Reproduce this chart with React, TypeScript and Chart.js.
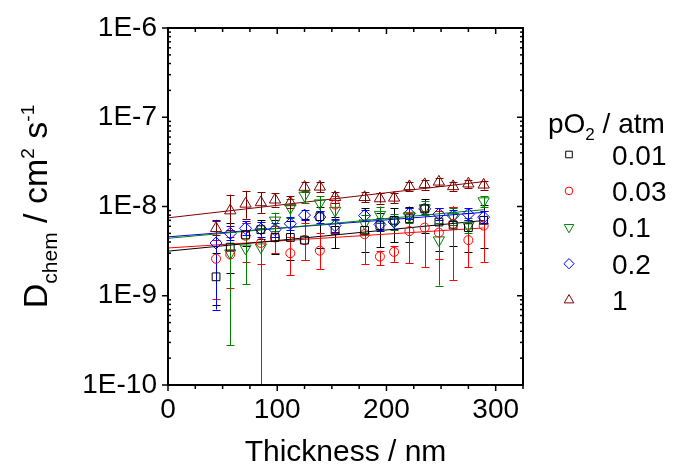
import React, { useEffect, useRef } from "react";
import { Chart, registerables } from "chart.js";

Chart.register(...registerables);

// ---------- data ----------
const thickness = [44, 57, 71, 85, 98, 112, 125, 139, 153, 180, 194, 207, 221, 235, 248, 261, 275, 289];
const seriesLabels = ["0.01", "0.03", "0.1", "0.2", "1"];
const seriesColors = ["#000000", "#FF0000", "#008000", "#0000FF", "#800000"];

const d001 = [1.63e-9, 3.5e-9, 4.8e-9, 5.5e-9, 4.5e-9, 4.5e-9, 4.2e-9, 7.7e-9, 5.4e-9, 5.4e-9, 6.1e-9, 7.0e-9, 7.3e-9, 9.4e-9, 6.7e-9, 6.2e-9, 5.8e-9, 7.0e-9];
const d001Lo = [7.9e-10, 1.8e-9, 3.6e-9, 4.3e-9, 2.9e-9, 2.5e-9, 2.5e-9, 3.4e-9, 3.4e-9, 3.1e-9, 3.5e-9, 4.0e-9, 4.0e-9, 5.0e-9, 3.2e-9, 3.6e-9, 3.1e-9, 3.4e-9];
const d001Hi = [3.0e-9, 6.5e-9, 6.5e-9, 7.0e-9, 7.0e-9, 6.9e-9, 7.2e-9, 1.0e-8, 7.6e-9, 9.5e-9, 8.5e-9, 9.5e-9, 1.0e-8, 1.2e-8, 9.5e-9, 1.0e-8, 8.5e-9, 1.05e-8];

const d003 = [2.6e-9, 2.9e-9, 4.7e-9, 3.9e-9, 4.5e-9, 3.0e-9, 4.2e-9, 3.2e-9, 1.05e-8, 4.9e-9, 2.75e-9, 3.1e-9, 5.3e-9, 5.8e-9, 5.1e-9, 6.4e-9, 4.2e-9, 6.1e-9];
const d003Lo = [9.2e-10, 1.23e-9, 2.4e-9, 2.27e-9, 3.0e-9, 1.7e-9, 2.5e-9, 2.0e-9, 5.0e-9, 2.27e-9, 2.2e-9, 2.4e-9, 2.3e-9, 2.1e-9, 2.6e-9, 1.5e-9, 2.1e-9, 2.4e-9];
const d003Hi = [4.2e-9, 4.5e-9, 6.5e-9, 5.8e-9, 6.0e-9, 4.5e-9, 6.5e-9, 5.0e-9, 1.3e-8, 8.0e-9, 3.2e-9, 3.6e-9, 8.5e-9, 9.0e-9, 9.0e-9, 1.0e-8, 7.0e-9, 9.0e-9];

const d01 = [null, 3.0e-9, 3.4e-9, 3.5e-9, 7.0e-9, 9.7e-9, 1.33e-8, 1.09e-8, 9.0e-9, 6.5e-9, 8.1e-9, 6.8e-9, 7.9e-9, 9.6e-9, 4.2e-9, 7.7e-9, 6.1e-9, 1.15e-8];
const d01Lo = [null, 2.8e-10, 1.35e-9, 5e-11, 5.3e-9, 7.5e-9, 1.1e-8, 9.0e-9, 7.0e-9, 5.0e-9, 6.5e-9, 5.5e-9, 6.5e-9, 8.0e-9, 1.3e-9, 6.2e-9, 5.0e-9, 9.8e-9];
const d01Hi = [null, 5.5e-9, 5.5e-9, 5.8e-9, 8.5e-9, 1.2e-8, 1.5e-8, 1.3e-8, 1.1e-8, 8.0e-9, 1.0e-8, 8.2e-9, 9.5e-9, 1.15e-8, 6.5e-9, 9.5e-9, 7.5e-9, 1.3e-8];

const d02 = [3.9e-9, 5.0e-9, 5.7e-9, 5.6e-9, 5.5e-9, 6.4e-9, 8.0e-9, 7.6e-9, 6.1e-9, 7.9e-9, 6.3e-9, 6.7e-9, 8.3e-9, 9.4e-9, 8.2e-9, 7.9e-9, 8.2e-9, 7.6e-9];
const d02Lo = [7.0e-10, 4.2e-9, 4.8e-9, 4.6e-9, 4.6e-9, 5.4e-9, 7.0e-9, 6.6e-9, 5.2e-9, 6.8e-9, 5.3e-9, 5.6e-9, 7.2e-9, 8.2e-9, 7.0e-9, 6.8e-9, 7.0e-9, 6.5e-9];
const d02Hi = [7.1e-9, 6.0e-9, 6.8e-9, 6.7e-9, 6.6e-9, 7.6e-9, 9.2e-9, 8.8e-9, 7.2e-9, 9.2e-9, 7.4e-9, 7.9e-9, 9.6e-9, 1.08e-8, 9.5e-9, 9.2e-9, 9.5e-9, 8.8e-9];

const d1 = [5.7e-9, 9.0e-9, 1.07e-8, 1.11e-8, 1.19e-8, 1.11e-8, 1.65e-8, 1.66e-8, 1.27e-8, 1.27e-8, 1.23e-8, 1.25e-8, 1.68e-8, 1.77e-8, 1.89e-8, 1.68e-8, 1.8e-8, 1.75e-8];
const d1Lo = [4.8e-9, 5.5e-9, 7.3e-9, 8.5e-9, 1.0e-8, 9.5e-9, 1.45e-8, 1.45e-8, 1.1e-8, 1.12e-8, 1.08e-8, 1.1e-8, 1.5e-8, 1.55e-8, 1.7e-8, 1.5e-8, 1.6e-8, 1.55e-8];
const d1Hi = [6.8e-9, 1.36e-8, 1.5e-8, 1.45e-8, 1.4e-8, 1.3e-8, 1.9e-8, 1.9e-8, 1.45e-8, 1.45e-8, 1.4e-8, 1.42e-8, 1.9e-8, 2.0e-8, 2.1e-8, 1.9e-8, 2.0e-8, 1.95e-8];

// linear fits (drawn on log axis), end points
const fitX = [0, 289];
const fit001 = [3.16e-9, 6.97e-9];
const fit003 = [3.43e-9, 5.75e-9];
const fit01 = [4.4e-9, 9.2e-9];
const fit02 = [4.57e-9, 8.6e-9];
const fit1 = [7.46e-9, 1.9e-8];

const xMin = 0;
const xMax = 325;
const xStep = 25;
const yMin = 1e-10;
const yMax = 1e-6;
const yMinorMantissas = [1, 2, 3, 4, 5, 6, 7, 8, 9];

const FONT = "'Liberation Sans', Arial, sans-serif";

const seriesValues = [d001, d003, d01, d02, d1];
const seriesLo = [d001Lo, d003Lo, d01Lo, d02Lo, d1Lo];
const seriesHi = [d001Hi, d003Hi, d01Hi, d02Hi, d1Hi];
const seriesFits = [fit001, fit003, fit01, fit02, fit1];
const pointStyles = ["rect", "circle", "triangle", "rectRot", "triangle"];
const pointRotations = [0, 0, 180, 0, 0];
const pointRadii = [5.5, 4.5, 6.5, 6, 6.5];

type Seg = { t: string; size: number; dy?: number };

function drawRich(ctx: CanvasRenderingContext2D, segs: Seg[], x: number, y: number, align: "left" | "center") {
  let total = 0;
  const widths = segs.map((s) => {
    ctx.font = `${s.size}px ${FONT}`;
    const w = ctx.measureText(s.t).width;
    total += w;
    return w;
  });
  let cx = align === "center" ? x - total / 2 : x;
  segs.forEach((s, i) => {
    ctx.font = `${s.size}px ${FONT}`;
    ctx.fillText(s.t, cx, y + (s.dy || 0));
    cx += widths[i];
  });
}

function drawMarker(ctx: CanvasRenderingContext2D, style: string, rot: number, r: number, x: number, y: number) {
  ctx.beginPath();
  if (style === "rect") {
    const s = Math.SQRT1_2 * r;
    ctx.rect(x - s, y - s, 2 * s, 2 * s);
  } else if (style === "circle") {
    ctx.arc(x, y, r, 0, Math.PI * 2);
  } else if (style === "rectRot") {
    ctx.moveTo(x, y - r);
    ctx.lineTo(x + r, y);
    ctx.lineTo(x, y + r);
    ctx.lineTo(x - r, y);
    ctx.closePath();
  } else {
    let a = (rot * Math.PI) / 180;
    for (let k = 0; k < 3; k++) {
      const px = x + Math.sin(a) * r;
      const py = y - Math.cos(a) * r;
      if (k === 0) ctx.moveTo(px, py);
      else ctx.lineTo(px, py);
      a += (2 * Math.PI) / 3;
    }
    ctx.closePath();
  }
  ctx.stroke();
}

const errorBarPlugin = {
  id: "errorBars",
  beforeDatasetsDraw(chart: any) {
    const { ctx, chartArea: a, scales } = chart;
    const xs = scales.x;
    const ys = scales.y;
    ctx.save();
    ctx.beginPath();
    ctx.rect(a.left, a.top, a.right - a.left, a.bottom - a.top);
    ctx.clip();
    chart.data.datasets.forEach((ds: any) => {
      if (!ds.errLow) return;
      ctx.strokeStyle = ds.borderColor;
      ctx.lineWidth = 1;
      ds.data.forEach((pt: any, j: number) => {
        if (pt.y == null || ds.errLow[j] == null) return;
        const px = Math.round(xs.getPixelForValue(pt.x)) + 0.5;
        const pLo = ys.getPixelForValue(Math.max(ds.errLow[j], 1e-12));
        const pHi = ys.getPixelForValue(ds.errHigh[j]);
        ctx.beginPath();
        ctx.moveTo(px, pLo);
        ctx.lineTo(px, pHi);
        ctx.moveTo(px - 4, Math.round(pLo) + 0.5);
        ctx.lineTo(px + 4, Math.round(pLo) + 0.5);
        ctx.moveTo(px - 4, Math.round(pHi) + 0.5);
        ctx.lineTo(px + 4, Math.round(pHi) + 0.5);
        ctx.stroke();
      });
    });
    ctx.restore();
  },
};

const frameAndTextPlugin = {
  id: "frameText",
  afterDraw(chart: any) {
    const { ctx, chartArea: a, scales } = chart;
    const xs = scales.x;
    const ys = scales.y;
    ctx.save();
    ctx.strokeStyle = "#000";
    ctx.lineWidth = 2;
    ctx.strokeRect(a.left, a.top, a.right - a.left, a.bottom - a.top);
    ctx.lineWidth = 1.5;
    const line = (x1: number, y1: number, x2: number, y2: number) => {
      ctx.beginPath();
      ctx.moveTo(x1, y1);
      ctx.lineTo(x2, y2);
      ctx.stroke();
    };
    xs.ticks.forEach((t: any) => {
      const px = xs.getPixelForValue(t.value);
      const major = t.value % 100 === 0;
      const L = major ? 6 : 4;
      line(px, a.bottom, px, a.bottom + L);
      line(px, a.top, px, a.top + L);
    });
    ys.ticks.forEach((t: any) => {
      const py = ys.getPixelForValue(t.value);
      const lg = Math.log10(t.value);
      const major = Math.abs(lg - Math.round(lg)) < 1e-6;
      if (major) {
        line(a.left - 6, py, a.left, py);
        line(a.right - 6, py, a.right, py);
      } else {
        line(a.left, py, a.left + 3, py);
        line(a.right - 3, py, a.right, py);
      }
    });

    ctx.fillStyle = "#000";
    ctx.textBaseline = "alphabetic";
    ctx.textAlign = "left";

    // x title
    drawRich(ctx, [{ t: "Thickness / nm", size: 30 }], (a.left + a.right) / 2, 461, "center");

    // y title
    ctx.save();
    ctx.translate(47, (a.top + a.bottom) / 2);
    ctx.rotate(-Math.PI / 2);
    drawRich(
      ctx,
      [
        { t: "D", size: 34 },
        { t: "chem", size: 21, dy: 10 },
        { t: " / cm", size: 34 },
        { t: "2", size: 19, dy: -13 },
        { t: " s", size: 34 },
        { t: "-1", size: 19, dy: -13 },
      ],
      0,
      0,
      "center"
    );
    ctx.restore();

    // legend
    drawRich(
      ctx,
      [
        { t: "pO", size: 28 },
        { t: "2", size: 17, dy: 7 },
        { t: " / atm", size: 28 },
      ],
      548,
      133,
      "left"
    );
    seriesLabels.forEach((lab, i) => {
      const cy = 154.5 + i * 36.4;
      ctx.strokeStyle = seriesColors[i];
      ctx.lineWidth = 1;
      drawMarker(ctx, pointStyles[i], pointRotations[i], pointRadii[i] * 0.85, 569, cy);
      ctx.fillStyle = "#000";
      ctx.font = `28px ${FONT}`;
      ctx.fillText(lab, 612, cy + 10);
    });
    ctx.restore();
  },
};

export default function App() {
  const ref = useRef<HTMLCanvasElement | null>(null);

  useEffect(() => {
    if (!ref.current) return;
    const datasets: any[] = [];
    seriesLabels.forEach((lab, i) => {
      datasets.push({
        label: lab,
        data: thickness.map((x, j) => ({ x, y: seriesValues[i][j] })),
        errLow: seriesLo[i],
        errHigh: seriesHi[i],
        showLine: false,
        borderColor: seriesColors[i],
        backgroundColor: "rgba(0,0,0,0)",
        pointStyle: pointStyles[i],
        rotation: pointRotations[i],
        pointRadius: pointRadii[i],
        pointBorderWidth: 1,
      });
    });
    seriesLabels.forEach((lab, i) => {
      datasets.push({
        label: "fit " + lab,
        data: fitX.map((x, j) => ({ x, y: seriesFits[i][j] })),
        showLine: true,
        borderColor: seriesColors[i],
        borderWidth: 1,
        pointRadius: 0,
        fill: false,
      });
    });

    const chart = new Chart(ref.current, {
      type: "scatter",
      data: { datasets },
      plugins: [errorBarPlugin, frameAndTextPlugin],
      options: {
        animation: false,
        responsive: false,
        devicePixelRatio: 1,
        layout: { padding: { left: 0, top: 28, right: 152, bottom: 0 } },
        plugins: { legend: { display: false }, tooltip: { enabled: false } },
        scales: {
          x: {
            type: "linear",
            min: xMin,
            max: xMax,
            grid: { display: false, drawTicks: true, tickLength: 8 },
            border: { display: false },
            ticks: {
              stepSize: xStep,
              autoSkip: false,
              maxRotation: 0,
              padding: 0,
              color: "#000",
              font: { family: FONT, size: 28 },
              callback: (v: any) => (Number(v) % 100 === 0 ? String(v) : ""),
            },
            afterFit: (s: any) => {
              s.height = 81;
            },
          },
          y: {
            type: "logarithmic",
            min: yMin,
            max: yMax,
            grid: { display: false, drawTicks: true, tickLength: 8 },
            border: { display: false },
            afterBuildTicks: (s: any) => {
              const ticks: any[] = [];
              for (let e = Math.round(Math.log10(yMin)); e < Math.round(Math.log10(yMax)); e++) {
                yMinorMantissas.forEach((m) => ticks.push({ value: m * Math.pow(10, e) }));
              }
              ticks.push({ value: yMax });
              s.ticks = ticks;
            },
            ticks: {
              autoSkip: false,
              padding: 3,
              color: "#000",
              font: { family: FONT, size: 28 },
              callback: (v: any) => {
                const lg = Math.log10(Number(v));
                return Math.abs(lg - Math.round(lg)) < 1e-6 ? `1E${Math.round(lg)}` : "";
              },
            },
            afterFit: (s: any) => {
              s.width = 168;
            },
          },
        },
      } as any,
    });
    return () => chart.destroy();
  }, []);

  return (
    <div style={{ position: "fixed", left: 0, top: 0, width: 675, height: 466, background: "#fff" }}>
      <canvas ref={ref} width={675} height={466} />
    </div>
  );
}
